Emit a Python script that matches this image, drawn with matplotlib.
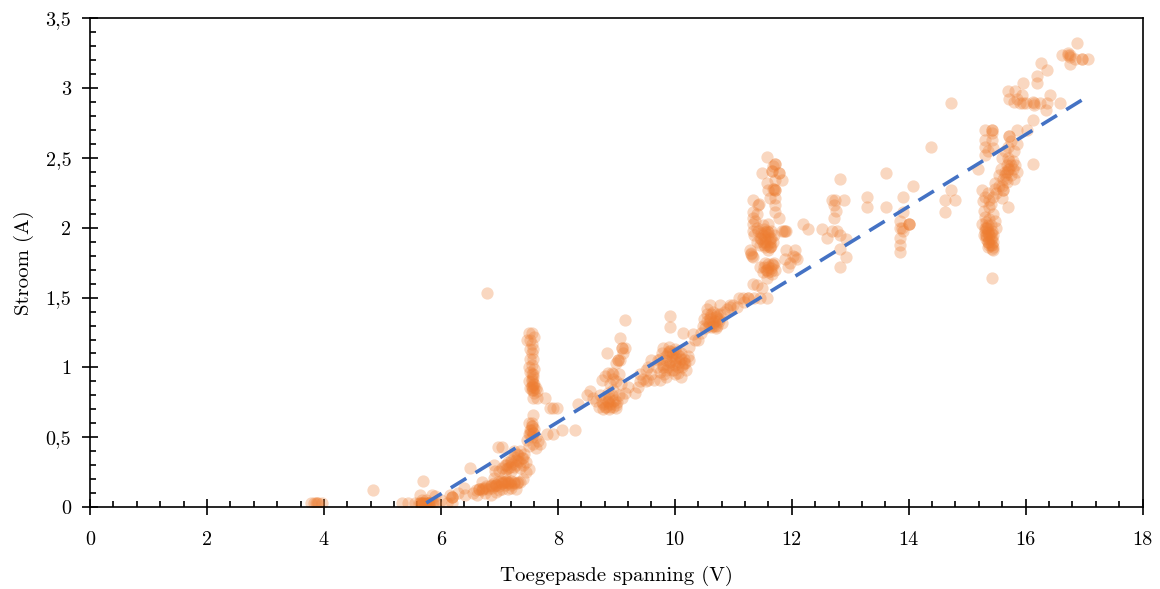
import numpy as np
import matplotlib
matplotlib.use('Agg')
import matplotlib.pyplot as plt
from matplotlib.ticker import MultipleLocator, FuncFormatter

plt.rcParams['font.family'] = 'serif'
plt.rcParams['font.serif'] = ['cmr10', 'DejaVu Serif']
plt.rcParams['axes.formatter.use_mathtext'] = True

#---------------- measured points (V, A), read per cluster ----------------
pts_low = [(3.78, 0.03), (3.83, 0.03), (3.86, 0.03), (3.88, 0.03), (3.90, 0.03), (3.97, 0.03),
           (4.84, 0.12), (5.33, 0.03), (5.44, 0.03), (5.55, 0.03),
           (5.62, 0.03), (5.66, 0.03), (5.70, 0.03), (5.74, 0.03), (5.78, 0.03), (5.82, 0.03),
           (5.86, 0.03), (5.90, 0.03), (5.68, 0.05), (5.75, 0.05), (5.80, 0.02), (5.72, 0.02),
           (5.66, 0.02), (5.69, 0.19), (5.64, 0.09), (5.85, 0.09), (5.90, 0.08), (6.00, 0.05),
           (6.15, 0.09), (6.19, 0.07), (6.19, 0.07), (6.19, 0.03), (6.10, 0.03), (6.30, 0.10),
           (6.40, 0.14), (6.41, 0.09), (6.50, 0.28)]

pts_7 = [(6.60, 0.12), (6.65, 0.13), (6.70, 0.12), (6.72, 0.14), (6.78, 0.15), (6.80, 0.13),
         (6.85, 0.16), (6.88, 0.14), (6.90, 0.17), (6.95, 0.16), (6.98, 0.18), (7.00, 0.15),
         (7.02, 0.19), (7.05, 0.17), (7.08, 0.18), (7.10, 0.16), (7.12, 0.19), (7.15, 0.18),
         (7.18, 0.17), (7.20, 0.19), (7.25, 0.18), (7.30, 0.17), (7.35, 0.18), (6.75, 0.10),
         (6.62, 0.09), (6.55, 0.10), (6.70, 0.18), (6.90, 0.21), (7.00, 0.12), (7.20, 0.14),
         (7.40, 0.20), (6.85, 0.09), (6.95, 0.11), (7.05, 0.13), (7.15, 0.13), (7.28, 0.13),
         (7.00, 0.26), (7.05, 0.28), (7.10, 0.30), (7.12, 0.27), (7.15, 0.32), (7.18, 0.29),
         (7.20, 0.34), (7.22, 0.31), (7.25, 0.36), (7.28, 0.30), (7.30, 0.38), (7.32, 0.33),
         (7.35, 0.28), (7.38, 0.35), (7.40, 0.30), (7.42, 0.38), (7.45, 0.32), (7.10, 0.24),
         (7.20, 0.26), (7.35, 0.40), (7.25, 0.40), (6.97, 0.43), (7.04, 0.43), (6.90, 0.30),
         (6.93, 0.26), (7.50, 0.27), (7.45, 0.25)]

pts_75 = [(7.50, 1.25), (7.56, 1.25), (7.60, 1.22), (7.53, 1.20), (7.47, 1.20), (7.55, 1.17),
          (7.52, 1.13), (7.58, 1.13), (7.55, 1.10), (7.52, 1.06), (7.58, 1.06), (7.55, 1.02),
          (7.50, 1.00), (7.60, 0.99), (7.53, 0.97), (7.55, 0.95), (7.58, 0.93), (7.56, 0.90),
          (7.60, 0.88), (7.55, 0.87), (7.62, 0.85), (7.57, 0.84), (7.52, 0.85), (7.60, 0.82),
          (7.65, 0.83), (7.50, 0.90), (7.58, 0.78), (7.65, 0.78), (7.78, 0.78), (7.86, 0.71),
          (7.91, 0.71), (7.98, 0.71), (7.57, 0.66), (7.50, 0.60), (7.55, 0.58), (7.52, 0.55),
          (7.57, 0.53), (7.50, 0.52), (7.60, 0.56), (7.55, 0.50), (7.62, 0.50), (7.48, 0.48),
          (7.66, 0.47), (7.70, 0.45), (7.58, 0.45), (7.81, 0.52), (7.91, 0.52), (8.07, 0.55),
          (8.29, 0.55), (8.34, 0.74), (7.62, 0.42), (7.50, 0.44), (6.79, 1.53)]

pts_9 = [(8.50, 0.80), (8.55, 0.83), (8.60, 0.78), (8.65, 0.76), (8.70, 0.72), (8.72, 0.80),
         (8.75, 0.75), (8.78, 0.70), (8.80, 0.78), (8.82, 0.72), (8.85, 0.76), (8.88, 0.70),
         (8.90, 0.74), (8.92, 0.80), (8.95, 0.72), (8.98, 0.77), (9.00, 0.71), (9.02, 0.75),
         (9.05, 0.80), (8.85, 0.82), (8.95, 0.84), (9.10, 0.78), (9.15, 0.82), (9.20, 0.86),
         (8.75, 0.91), (8.80, 0.94), (8.85, 0.96), (8.92, 0.96), (8.95, 0.92), (9.00, 0.90),
         (9.03, 1.05), (9.06, 1.05), (9.00, 1.03), (9.10, 1.14), (9.15, 1.14), (9.12, 1.10),
         (9.06, 1.21), (9.15, 1.34), (8.84, 1.10), (8.90, 0.88), (9.05, 0.95), (9.08, 0.88),
         (9.32, 0.82), (9.37, 0.86), (9.40, 0.90), (9.45, 0.92), (9.50, 0.90), (9.54, 0.91),
         (9.60, 0.95), (9.65, 0.91), (9.74, 0.91), (9.40, 0.95), (9.50, 0.98), (9.55, 1.00)]

pts_10 = [(9.70, 1.00), (9.72, 1.05), (9.75, 0.97), (9.78, 1.10), (9.80, 1.02), (9.82, 0.95),
          (9.85, 1.08), (9.88, 1.00), (9.90, 1.12), (9.92, 1.04), (9.95, 0.98), (9.97, 1.10),
          (10.00, 1.02), (10.02, 1.07), (10.05, 0.96), (10.08, 1.04), (10.10, 1.10), (10.12, 1.00),
          (10.15, 1.06), (10.18, 1.03), (10.20, 0.98), (10.22, 1.08), (9.80, 1.14), (9.90, 1.15),
          (10.00, 1.13), (9.85, 0.93), (10.00, 0.95), (10.10, 0.93), (9.75, 1.06), (9.95, 1.06),
          (10.05, 1.12), (10.25, 1.05), (9.91, 1.29), (9.91, 1.37), (10.14, 1.25), (10.31, 1.24),
          (10.35, 1.20), (10.25, 1.15), (9.60, 1.05)]

pts_105 = [(10.48, 1.30), (10.50, 1.35), (10.52, 1.28), (10.55, 1.38), (10.58, 1.32), (10.60, 1.36),
           (10.62, 1.29), (10.65, 1.40), (10.68, 1.33), (10.70, 1.37), (10.72, 1.30), (10.75, 1.35),
           (10.78, 1.38), (10.80, 1.32), (10.55, 1.42), (10.65, 1.30), (10.70, 1.28), (10.45, 1.25),
           (10.85, 1.40), (10.60, 1.45), (10.77, 1.45), (10.94, 1.45), (11.06, 1.43), (11.10, 1.50),
           (11.18, 1.47), (11.25, 1.50), (10.90, 1.42), (10.99, 1.45), (10.94, 1.43), (10.40, 1.20)]

pts_115 = [(11.57, 2.51), (11.71, 2.46), (11.68, 2.44), (11.66, 2.41), (11.79, 2.39), (11.49, 2.39),
           (11.71, 2.34), (11.83, 2.34), (11.57, 2.32), (11.71, 2.27), (11.68, 2.28), (11.59, 2.27),
           (11.62, 2.21), (11.71, 2.21), (11.33, 2.20), (11.42, 2.16), (11.44, 2.17), (11.71, 2.16),
           (11.71, 2.11), (11.33, 2.11), (11.33, 2.07), (11.33, 2.03), (11.33, 1.98), (11.79, 2.07),
           (11.42, 1.98), (11.45, 1.93), (11.48, 1.96), (11.50, 1.90), (11.52, 1.99), (11.55, 1.94),
           (11.58, 1.88), (11.60, 1.97), (11.62, 1.92), (11.65, 1.98), (11.68, 1.90), (11.70, 1.95),
           (11.50, 2.02), (11.60, 2.03), (11.45, 1.88), (11.55, 1.86), (11.65, 1.87), (11.83, 1.98),
           (11.91, 1.98), (11.86, 1.98), (11.28, 1.84), (11.33, 1.79), (11.30, 1.81), (11.62, 1.86),
           (11.60, 1.84), (11.91, 1.84), (12.05, 1.84), (12.09, 1.78), (11.88, 1.78), (11.97, 1.75),
           (12.05, 1.79), (12.03, 1.80), (11.52, 1.72), (11.56, 1.70), (11.60, 1.74), (11.64, 1.69),
           (11.68, 1.73), (11.72, 1.70), (11.66, 1.67), (11.60, 1.68), (11.55, 1.75), (11.70, 1.75),
           (11.45, 1.72), (11.33, 1.60), (11.40, 1.59), (11.49, 1.57), (11.57, 1.64), (11.50, 1.68),
           (11.93, 1.72), (11.16, 1.50), (11.25, 1.50), (11.35, 1.50), (11.45, 1.50), (11.57, 1.50),
           (11.38, 2.05), (11.40, 2.10), (11.40, 2.00), (11.36, 1.95), (11.40, 1.90)]

pts_13 = [(12.19, 2.03), (12.27, 1.99), (12.51, 1.99), (12.60, 1.93), (12.68, 2.20), (12.74, 2.20),
          (12.90, 2.20), (12.73, 2.16), (12.75, 2.12), (12.73, 2.07), (12.68, 1.98), (12.77, 1.98),
          (12.82, 1.95), (12.92, 1.92), (12.82, 1.85), (12.92, 1.79), (12.82, 1.72), (12.82, 2.35),
          (13.28, 2.22), (13.28, 2.15), (13.62, 2.39), (13.62, 2.15), (13.91, 2.22), (14.07, 2.30),
          (13.85, 2.05), (13.85, 2.00), (13.85, 1.93), (13.85, 1.88), (13.85, 1.83), (13.90, 1.98),
          (14.00, 2.03), (14.00, 2.03), (13.91, 2.11), (13.88, 2.00),
          (14.38, 2.58), (14.72, 2.89), (14.62, 2.20), (14.62, 2.11), (14.72, 2.27), (14.79, 2.20),
          (15.18, 2.42)]

pts_154 = [(15.30, 2.70), (15.42, 2.70), (15.42, 2.68), (15.30, 2.63), (15.42, 2.63), (15.30, 2.58),
           (15.35, 2.55), (15.30, 2.52), (15.45, 2.57), (15.25, 2.27), (15.30, 2.22), (15.47, 2.32),
           (15.59, 2.21), (15.69, 2.15), (15.27, 2.19), (15.28, 2.12), (15.30, 2.08), (15.32, 2.04),
           (15.34, 2.00), (15.36, 1.96), (15.38, 1.92), (15.40, 1.88), (15.42, 1.85), (15.30, 1.98),
           (15.32, 1.94), (15.35, 1.90), (15.40, 2.02), (15.42, 1.98), (15.44, 1.95), (15.45, 1.90),
           (15.38, 2.06), (15.45, 2.10), (15.48, 2.05), (15.50, 2.00), (15.26, 2.03), (15.28, 1.95),
           (15.35, 1.86), (15.45, 1.84), (15.38, 2.15), (15.42, 1.93), (15.33, 2.00), (15.42, 1.64),
           (15.35, 2.25), (15.38, 2.20), (15.40, 2.17), (15.45, 2.22), (15.50, 2.25), (15.47, 2.28),
           (15.55, 2.30)]

pts_157 = [(15.60, 2.30), (15.62, 2.35), (15.65, 2.40), (15.68, 2.45), (15.70, 2.50), (15.72, 2.42),
           (15.75, 2.38), (15.78, 2.48), (15.80, 2.55), (15.82, 2.45), (15.70, 2.58), (15.75, 2.62),
           (15.71, 2.66), (15.65, 2.55), (15.60, 2.50), (15.85, 2.40), (15.80, 2.35), (15.68, 2.33),
           (15.62, 2.27), (15.55, 2.38), (15.58, 2.42), (15.85, 2.60), (15.86, 2.70), (16.03, 2.70),
           (16.12, 2.77), (16.12, 2.46), (15.62, 2.27)]

pts_top = [(15.69, 2.98), (15.81, 2.98), (15.93, 2.95), (15.90, 2.89), (15.85, 2.92), (15.95, 2.89),
           (16.00, 2.89), (16.15, 2.89), (16.25, 2.89), (16.36, 2.89), (16.41, 2.95), (16.58, 2.89),
           (16.34, 2.84), (15.72, 2.92), (15.80, 2.90), (15.95, 3.04), (16.19, 3.09), (16.19, 3.04),
           (16.27, 3.18), (16.36, 3.13), (16.63, 3.24), (16.75, 3.24), (16.72, 3.25), (16.84, 3.21),
           (16.97, 3.21), (16.75, 3.17), (17.06, 3.21), (16.87, 3.32), (16.12, 2.90), (16.15, 2.88)]

# repeated readings where the reference is saturated orange
pts_repeat = [(5.65, 0.03), (5.70, 0.03), (5.75, 0.03), (5.80, 0.03), (5.85, 0.03),
              (5.68, 0.03), (5.78, 0.03), (6.19, 0.07),
              (6.65, 0.13), (6.75, 0.14), (6.85, 0.15), (6.95, 0.16), (7.05, 0.17), (7.15, 0.17),
              (7.25, 0.17), (7.32, 0.18), (6.70, 0.13), (6.90, 0.15), (7.10, 0.18), (7.20, 0.16),
              (7.12, 0.30), (7.20, 0.32), (7.28, 0.34), (7.35, 0.32), (7.40, 0.35), (7.25, 0.29),
              (7.15, 0.28), (7.32, 0.37),
              (7.56, 0.86), (7.58, 0.88), (7.56, 0.92), (7.60, 0.86), (7.55, 0.84), (7.58, 0.95),
              (7.54, 0.55), (7.56, 0.58), (7.53, 0.52), (7.58, 0.53), (7.55, 0.60),
              (8.80, 0.72), (8.85, 0.75), (8.90, 0.72), (8.95, 0.76), (9.00, 0.73), (8.88, 0.78),
              (8.78, 0.74), (9.10, 1.14), (9.03, 1.05), (8.95, 0.95),
              (9.80, 1.00), (9.85, 1.05), (9.90, 1.02), (9.95, 1.08), (10.00, 1.04), (10.05, 1.00),
              (10.10, 1.06), (10.15, 1.03), (9.88, 1.10), (9.98, 0.98), (10.08, 1.08), (9.92, 1.12),
              (9.85, 0.98), (10.02, 1.10), (10.12, 1.02),
              (10.55, 1.33), (10.60, 1.35), (10.65, 1.32), (10.70, 1.36), (10.75, 1.33), (10.62, 1.38),
              (10.68, 1.30), (10.58, 1.30), (10.72, 1.38),
              (11.50, 1.95), (11.55, 1.92), (11.60, 1.95), (11.65, 1.93), (11.52, 1.88), (11.58, 1.98),
              (11.62, 1.90), (11.48, 1.92), (11.55, 1.97), (11.60, 1.72), (11.64, 1.71), (11.58, 1.70),
              (11.66, 1.74), (11.30, 1.82), (11.32, 1.80), (11.62, 1.86), (11.88, 1.98), (11.71, 2.46),
              (11.71, 2.27), (11.70, 2.28), (11.66, 2.41), (11.79, 2.39), (11.55, 1.90),
              (15.32, 1.95), (15.35, 1.98), (15.38, 1.95), (15.40, 1.92), (15.42, 1.88), (15.36, 2.02),
              (15.33, 1.92), (15.40, 1.96), (15.38, 1.88), (15.30, 2.00), (15.44, 1.86), (15.36, 1.90),
              (15.42, 2.70), (15.65, 2.38), (15.70, 2.42), (15.72, 2.48), (15.75, 2.45), (15.68, 2.40),
              (15.78, 2.42), (15.71, 2.66), (15.66, 2.35),
              (16.72, 3.24), (16.75, 3.22), (16.97, 3.21), (14.00, 2.03)]

# trend line end points
fit_v = [5.75, 17.10]
fit_a = [0.03, 2.95]

clusters = [pts_low, pts_7, pts_75, pts_9, pts_10, pts_105, pts_115, pts_13, pts_154, pts_157,
            pts_top, pts_repeat]

#==================================================================
def comma_fmt(v, pos):
    return ('%g' % v).replace('.', ',')

#==================================================================
def plot_chart():
    fig = plt.figure(figsize=(11.6, 5.89), dpi=100)
    ax = fig.add_axes([0.0776, 0.139, 0.9074, 0.830])

    pts = np.array([p for c in clusters for p in c])
    ax.scatter(pts[:, 0], pts[:, 1], s=78, color='#ED7D31', alpha=0.3,
               linewidths=0, zorder=2)
    ax.plot(fit_v, fit_a, color='#4472C4', lw=2.6, dashes=(5.0, 3.0),
            solid_capstyle='butt', zorder=3)

    ax.set_xlim(0, 18)
    ax.set_ylim(0, 3.5)
    ax.xaxis.set_major_locator(MultipleLocator(2))
    ax.xaxis.set_minor_locator(MultipleLocator(0.4))
    ax.yaxis.set_major_locator(MultipleLocator(0.5))
    ax.yaxis.set_minor_locator(MultipleLocator(0.1))
    ax.xaxis.set_major_formatter(FuncFormatter(comma_fmt))
    ax.yaxis.set_major_formatter(FuncFormatter(comma_fmt))

    ax.tick_params(which='major', direction='inout', length=11, width=1.2,
                   labelsize=14.5)
    ax.tick_params(which='minor', direction='in', length=4, width=1.2)
    ax.tick_params(axis='x', which='major', pad=12)
    ax.tick_params(axis='y', which='major', pad=8)
    for s in ax.spines.values():
        s.set_linewidth(1.2)

    ax.set_xlabel('Toegepasde spanning (V)', fontsize=15, labelpad=12)
    ax.set_ylabel('Stroom (A)', fontsize=15, labelpad=8)

    fig.savefig('out.png', dpi=100)

#==================================================================
if __name__ == "__main__":
    plot_chart()
